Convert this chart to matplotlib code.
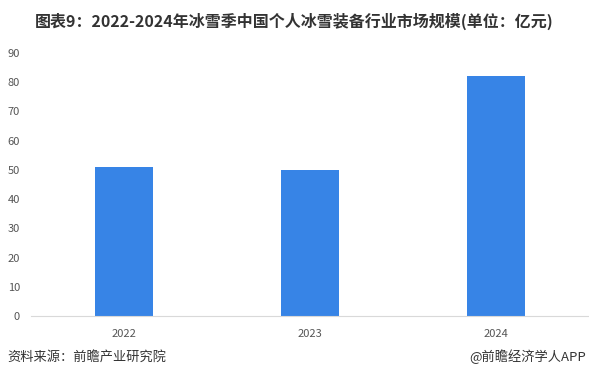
import matplotlib.pyplot as plt

plt.rcParams['font.family'] = ['Noto Sans CJK SC', 'DejaVu Sans']

# 数据
years = ['2022', '2023', '2024']
values = [51, 50, 82]
yticks = [0, 10, 20, 30, 40, 50, 60, 70, 80, 90]

fig = plt.figure(figsize=(5.89, 3.84), dpi=100)
ax = fig.add_axes([0.053, 0.177, 0.947, 0.685])

ax.bar(years, values, width=0.31, color='#3784E6', zorder=2)

ax.set_ylim(0, 90)
ax.set_xlim(-0.5, 2.5)
ax.set_yticks(yticks)
ax.tick_params(axis='both', length=0, labelsize=8, colors='#555555')
ax.tick_params(axis='x', pad=9)
ax.tick_params(axis='y', pad=8)
for s in ['top', 'right', 'left']:
    ax.spines[s].set_visible(False)
ax.spines['bottom'].set_color('#d9d9d9')

fig.text(0.5, 0.945, '图表9：2022-2024年冰雪季中国个人冰雪装备行业市场规模(单位：亿元)',
         ha='center', va='center', fontsize=11.5, fontweight='bold', color='#333333')
fig.text(0.012, 0.07, '资料来源：前瞻产业研究院', ha='left', va='center',
         fontsize=9.5, color='#333333')
fig.text(0.995, 0.07, '@前瞻经济学人APP', ha='right', va='center',
         fontsize=9.5, color='#333333')

fig.savefig('out.png', dpi=100)
